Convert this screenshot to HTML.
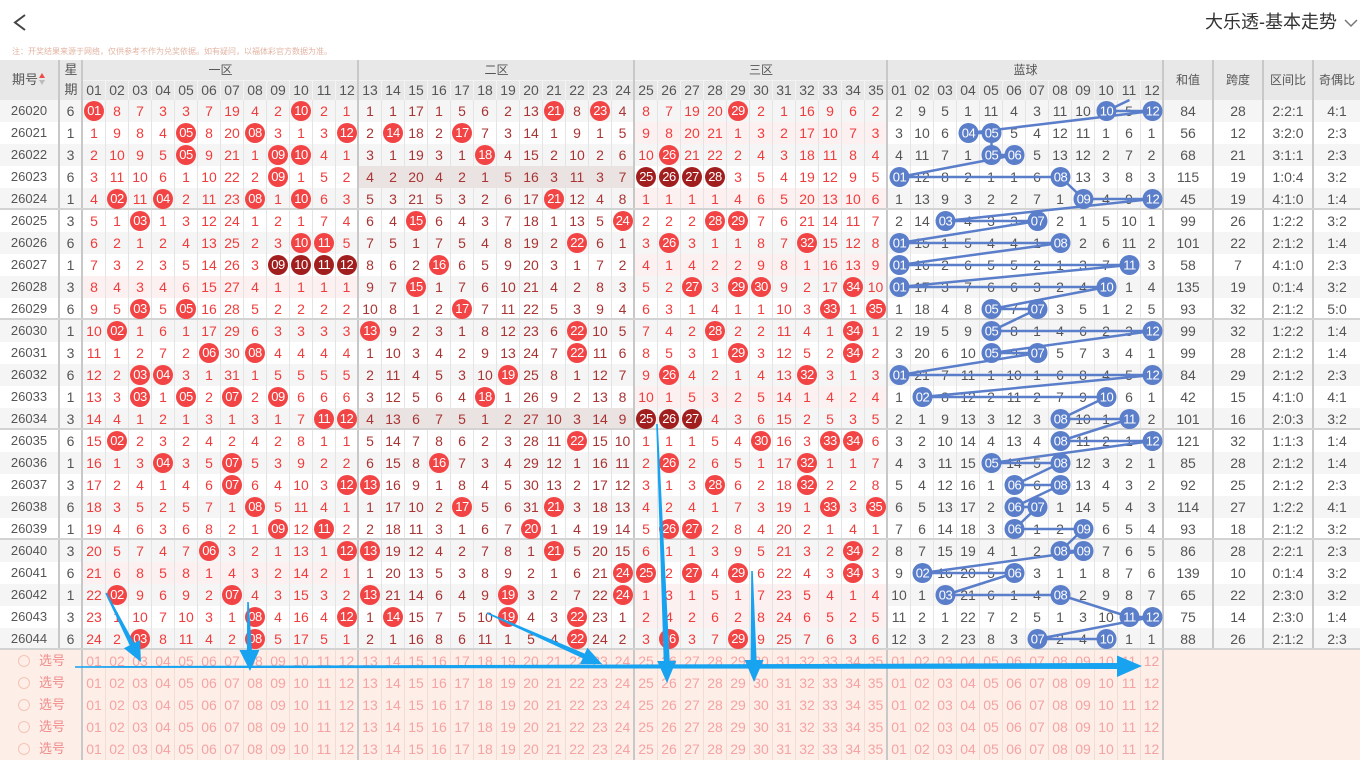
<!DOCTYPE html>
<html><head><meta charset="utf-8">
<style>
*{margin:0;padding:0;box-sizing:border-box}
body{width:1360px;height:755px;overflow:hidden;background:#fff;font-family:"Liberation Sans","Noto Sans CJK SC",sans-serif;position:relative}
u{text-decoration:none;display:block;flex:none}
.title{position:absolute;left:1205px;top:11px;font-size:18px;line-height:22px;color:#333;white-space:nowrap}
.note{position:absolute;left:12px;top:47px;font-size:8px;line-height:10px;color:#e3b4a3;white-space:nowrap}
.hd{position:absolute;left:0;top:60px;width:1360px;height:40px;background:#e8e8e8;color:#555}
.hd .vl{position:absolute;top:0;width:2px;height:40px;background:#c8c8c8}
.hd .hl{position:absolute;left:83px;top:20px;width:1080px;height:1px;background:#f3f3f3}
.hd .h2{position:absolute;left:83px;top:20px;height:20px;display:flex;font-size:14px;line-height:20px}
.hd .h2 u{width:23px;border-right:1px solid #f4f4f4;text-align:center}
.hd .lb{position:absolute;font-size:12px;line-height:20px;text-align:center;white-space:nowrap}
.rows{position:absolute;left:0;top:100px;width:1360px}
.r{display:flex;height:22px;line-height:22px;font-size:14px;text-align:center;background:#fff}
.r.g{background:#f5f5f5}
.r.s{border-bottom:2px solid #d3d3d3}
.r>u{width:23px;border-right:1px solid #e4e4e4;text-align:center;white-space:nowrap}
.r>u:nth-child(n+3){color:#ef3d3d}
.r>u:nth-child(n+15):nth-child(-n+26){color:#a83434}
.r>u:nth-child(n+38){color:#555}
.r>u:nth-child(1){width:60px;border-right:2px solid #c8c8c8;color:#555;font-size:13px}
.r>u:nth-child(2){border-right:2px solid #c8c8c8;color:#555}
.r>u:nth-child(14),.r>u:nth-child(26),.r>u:nth-child(37),.r>u:nth-child(49){border-right:2px solid #c8c8c8}
.r>u:nth-child(n+50){width:50px;border-right:2px solid #c8c8c8}
.r>u:nth-child(53){width:46px;border-right:0}
.p1>u:nth-child(n+3):nth-child(-n+14){background:#fdf0f0}
.p3>u:nth-child(n+27):nth-child(-n+37){background:#fdf0f0}
.m2>u:nth-child(n+15):nth-child(-n+26){background:#ebe2e2}
.r b,.r i{display:inline-block;width:20px;height:20px;border-radius:50%;background:#f24444;color:#fff;font-weight:normal;font-style:normal;font-size:13px;line-height:20px;letter-spacing:-0.5px;vertical-align:top;margin-top:1px}
.r i{background:#a11e1e}
.x{display:flex;height:22px;line-height:22px;background:#fdefe8;font-size:14px;color:#f5a3a3}
.x>u{width:23px;border-right:1px solid #f3dcd3;text-align:center}
.x>u:nth-child(1){width:83px;border-right:2px solid #c8c8c8;text-align:left;padding-left:39px;color:#f08c8c;font-size:13px;position:relative}
.x>u:nth-child(13),.x>u:nth-child(25),.x>u:nth-child(36),.x>u:nth-child(48){border-right:2px solid #c8c8c8}
.x em{position:absolute;left:18px;top:5px;width:12px;height:12px;border:1px solid #f5c4b6;border-radius:50%}
.xs{position:absolute;left:0;top:650px;width:1360px}
svg.ov{position:absolute;left:0;top:0}
</style></head><body>

<svg class="ov" width="1360" height="60" style="position:absolute;left:0;top:0">
<polyline points="25,15 15,22.5 25,30" fill="none" stroke="#444" stroke-width="2"/>
<polyline points="1345,20 1351,26 1357,20" fill="none" stroke="#777" stroke-width="1.5"/>
</svg>
<div class="title">大乐透-基本走势</div>
<div class="note">注：开奖结果来源于网络，仅供参考不作为兑奖依据。如有疑问，以福体彩官方数据为准。</div>

<div class="hd">
<div class="hl"></div>
<div class="h2"><u>01</u><u>02</u><u>03</u><u>04</u><u>05</u><u>06</u><u>07</u><u>08</u><u>09</u><u>10</u><u>11</u><u>12</u><u>13</u><u>14</u><u>15</u><u>16</u><u>17</u><u>18</u><u>19</u><u>20</u><u>21</u><u>22</u><u>23</u><u>24</u><u>25</u><u>26</u><u>27</u><u>28</u><u>29</u><u>30</u><u>31</u><u>32</u><u>33</u><u>34</u><u>35</u><u>01</u><u>02</u><u>03</u><u>04</u><u>05</u><u>06</u><u>07</u><u>08</u><u>09</u><u>10</u><u>11</u><u>12</u></div>
<div class="vl" style="left:58px"></div><div class="vl" style="left:81px"></div><div class="vl" style="left:357px"></div><div class="vl" style="left:633px"></div><div class="vl" style="left:886px"></div><div class="vl" style="left:1162px"></div><div class="vl" style="left:1212px"></div><div class="vl" style="left:1262px"></div><div class="vl" style="left:1312px"></div>
<div class="lb" style="left:10px;top:10px;width:30px;font-size:13px">期号</div>
<div style="position:absolute;left:39px;top:13px;width:0;height:0;border-left:3px solid transparent;border-right:3px solid transparent;border-bottom:5px solid #f04a4a"></div>
<div style="position:absolute;left:39px;top:20px;width:0;height:0;border-left:3px solid transparent;border-right:3px solid transparent;border-top:5px solid #bbb"></div>
<div class="lb" style="left:60px;top:0;width:22px;font-size:13px">星</div>
<div class="lb" style="left:60px;top:20px;width:22px;font-size:13px">期</div>
<div class="lb" style="left:83px;top:0;width:275px">一区</div>
<div class="lb" style="left:359px;top:0;width:275px">二区</div>
<div class="lb" style="left:635px;top:0;width:252px">三区</div>
<div class="lb" style="left:888px;top:0;width:275px">蓝球</div>
<div class="lb" style="left:1164px;top:10px;width:48px">和值</div>
<div class="lb" style="left:1214px;top:10px;width:48px">跨度</div>
<div class="lb" style="left:1264px;top:10px;width:48px">区间比</div>
<div class="lb" style="left:1314px;top:10px;width:46px">奇偶比</div>
</div>

<div class="rows">
<div class="r g"><u>26020</u><u>6</u><u><b>01</b></u><u>8</u><u>7</u><u>3</u><u>3</u><u>7</u><u>19</u><u>4</u><u>2</u><u><b>10</b></u><u>2</u><u>1</u><u>1</u><u>1</u><u>17</u><u>1</u><u>5</u><u>6</u><u>2</u><u>13</u><u><b>21</b></u><u>8</u><u><b>23</b></u><u>4</u><u>8</u><u>7</u><u>19</u><u>20</u><u><b>29</b></u><u>2</u><u>1</u><u>16</u><u>9</u><u>6</u><u>2</u><u>2</u><u>9</u><u>5</u><u>1</u><u>11</u><u>4</u><u>3</u><u>11</u><u>10</u><u></u><u>5</u><u></u><u>84</u><u>28</u><u>2:2:1</u><u>4:1</u></div>
<div class="r p3"><u>26021</u><u>1</u><u>1</u><u>9</u><u>8</u><u>4</u><u><b>05</b></u><u>8</u><u>20</u><u><b>08</b></u><u>3</u><u>1</u><u>3</u><u><b>12</b></u><u>2</u><u><b>14</b></u><u>18</u><u>2</u><u><b>17</b></u><u>7</u><u>3</u><u>14</u><u>1</u><u>9</u><u>1</u><u>5</u><u>9</u><u>8</u><u>20</u><u>21</u><u>1</u><u>3</u><u>2</u><u>17</u><u>10</u><u>7</u><u>3</u><u>3</u><u>10</u><u>6</u><u></u><u></u><u>5</u><u>4</u><u>12</u><u>11</u><u>1</u><u>6</u><u>1</u><u>56</u><u>12</u><u>3:2:0</u><u>2:3</u></div>
<div class="r g"><u>26022</u><u>3</u><u>2</u><u>10</u><u>9</u><u>5</u><u><b>05</b></u><u>9</u><u>21</u><u>1</u><u><b>09</b></u><u><b>10</b></u><u>4</u><u>1</u><u>3</u><u>1</u><u>19</u><u>3</u><u>1</u><u><b>18</b></u><u>4</u><u>15</u><u>2</u><u>10</u><u>2</u><u>6</u><u>10</u><u><b>26</b></u><u>21</u><u>22</u><u>2</u><u>4</u><u>3</u><u>18</u><u>11</u><u>8</u><u>4</u><u>4</u><u>11</u><u>7</u><u>1</u><u></u><u></u><u>5</u><u>13</u><u>12</u><u>2</u><u>7</u><u>2</u><u>68</u><u>21</u><u>3:1:1</u><u>2:3</u></div>
<div class="r m2"><u>26023</u><u>6</u><u>3</u><u>11</u><u>10</u><u>6</u><u>1</u><u>10</u><u>22</u><u>2</u><u><b>09</b></u><u>1</u><u>5</u><u>2</u><u>4</u><u>2</u><u>20</u><u>4</u><u>2</u><u>1</u><u>5</u><u>16</u><u>3</u><u>11</u><u>3</u><u>7</u><u><i>25</i></u><u><i>26</i></u><u><i>27</i></u><u><i>28</i></u><u>3</u><u>5</u><u>4</u><u>19</u><u>12</u><u>9</u><u>5</u><u></u><u>12</u><u>8</u><u>2</u><u>1</u><u>1</u><u>6</u><u></u><u>13</u><u>3</u><u>8</u><u>3</u><u>115</u><u>19</u><u>1:0:4</u><u>3:2</u></div>
<div class="r g p3 s"><u>26024</u><u>1</u><u>4</u><u><b>02</b></u><u>11</u><u><b>04</b></u><u>2</u><u>11</u><u>23</u><u><b>08</b></u><u>1</u><u><b>10</b></u><u>6</u><u>3</u><u>5</u><u>3</u><u>21</u><u>5</u><u>3</u><u>2</u><u>6</u><u>17</u><u><b>21</b></u><u>12</u><u>4</u><u>8</u><u>1</u><u>1</u><u>1</u><u>1</u><u>4</u><u>6</u><u>5</u><u>20</u><u>13</u><u>10</u><u>6</u><u>1</u><u>13</u><u>9</u><u>3</u><u>2</u><u>2</u><u>7</u><u>1</u><u></u><u>4</u><u>9</u><u></u><u>45</u><u>19</u><u>4:1:0</u><u>1:4</u></div>
<div class="r"><u>26025</u><u>3</u><u>5</u><u>1</u><u><b>03</b></u><u>1</u><u>3</u><u>12</u><u>24</u><u>1</u><u>2</u><u>1</u><u>7</u><u>4</u><u>6</u><u>4</u><u><b>15</b></u><u>6</u><u>4</u><u>3</u><u>7</u><u>18</u><u>1</u><u>13</u><u>5</u><u><b>24</b></u><u>2</u><u>2</u><u>2</u><u><b>28</b></u><u><b>29</b></u><u>7</u><u>6</u><u>21</u><u>14</u><u>11</u><u>7</u><u>2</u><u>14</u><u></u><u>4</u><u>3</u><u>3</u><u></u><u>2</u><u>1</u><u>5</u><u>10</u><u>1</u><u>99</u><u>26</u><u>1:2:2</u><u>3:2</u></div>
<div class="r g"><u>26026</u><u>6</u><u>6</u><u>2</u><u>1</u><u>2</u><u>4</u><u>13</u><u>25</u><u>2</u><u>3</u><u><b>10</b></u><u><b>11</b></u><u>5</u><u>7</u><u>5</u><u>1</u><u>7</u><u>5</u><u>4</u><u>8</u><u>19</u><u>2</u><u><b>22</b></u><u>6</u><u>1</u><u>3</u><u><b>26</b></u><u>3</u><u>1</u><u>1</u><u>8</u><u>7</u><u><b>32</b></u><u>15</u><u>12</u><u>8</u><u></u><u>15</u><u>1</u><u>5</u><u>4</u><u>4</u><u>1</u><u></u><u>2</u><u>6</u><u>11</u><u>2</u><u>101</u><u>22</u><u>2:1:2</u><u>1:4</u></div>
<div class="r p3"><u>26027</u><u>1</u><u>7</u><u>3</u><u>2</u><u>3</u><u>5</u><u>14</u><u>26</u><u>3</u><u><i>09</i></u><u><i>10</i></u><u><i>11</i></u><u><i>12</i></u><u>8</u><u>6</u><u>2</u><u><b>16</b></u><u>6</u><u>5</u><u>9</u><u>20</u><u>3</u><u>1</u><u>7</u><u>2</u><u>4</u><u>1</u><u>4</u><u>2</u><u>2</u><u>9</u><u>8</u><u>1</u><u>16</u><u>13</u><u>9</u><u></u><u>16</u><u>2</u><u>6</u><u>5</u><u>5</u><u>2</u><u>1</u><u>3</u><u>7</u><u></u><u>3</u><u>58</u><u>7</u><u>4:1:0</u><u>2:3</u></div>
<div class="r g p1"><u>26028</u><u>3</u><u>8</u><u>4</u><u>3</u><u>4</u><u>6</u><u>15</u><u>27</u><u>4</u><u>1</u><u>1</u><u>1</u><u>1</u><u>9</u><u>7</u><u><b>15</b></u><u>1</u><u>7</u><u>6</u><u>10</u><u>21</u><u>4</u><u>2</u><u>8</u><u>3</u><u>5</u><u>2</u><u><b>27</b></u><u>3</u><u><b>29</b></u><u><b>30</b></u><u>9</u><u>2</u><u>17</u><u><b>34</b></u><u>10</u><u></u><u>17</u><u>3</u><u>7</u><u>6</u><u>6</u><u>3</u><u>2</u><u>4</u><u></u><u>1</u><u>4</u><u>135</u><u>19</u><u>0:1:4</u><u>3:2</u></div>
<div class="r s"><u>26029</u><u>6</u><u>9</u><u>5</u><u><b>03</b></u><u>5</u><u><b>05</b></u><u>16</u><u>28</u><u>5</u><u>2</u><u>2</u><u>2</u><u>2</u><u>10</u><u>8</u><u>1</u><u>2</u><u><b>17</b></u><u>7</u><u>11</u><u>22</u><u>5</u><u>3</u><u>9</u><u>4</u><u>6</u><u>3</u><u>1</u><u>4</u><u>1</u><u>1</u><u>10</u><u>3</u><u><b>33</b></u><u>1</u><u><b>35</b></u><u>1</u><u>18</u><u>4</u><u>8</u><u></u><u>7</u><u></u><u>3</u><u>5</u><u>1</u><u>2</u><u>5</u><u>93</u><u>32</u><u>2:1:2</u><u>5:0</u></div>
<div class="r g"><u>26030</u><u>1</u><u>10</u><u><b>02</b></u><u>1</u><u>6</u><u>1</u><u>17</u><u>29</u><u>6</u><u>3</u><u>3</u><u>3</u><u>3</u><u><b>13</b></u><u>9</u><u>2</u><u>3</u><u>1</u><u>8</u><u>12</u><u>23</u><u>6</u><u><b>22</b></u><u>10</u><u>5</u><u>7</u><u>4</u><u>2</u><u><b>28</b></u><u>2</u><u>2</u><u>11</u><u>4</u><u>1</u><u><b>34</b></u><u>1</u><u>2</u><u>19</u><u>5</u><u>9</u><u></u><u>8</u><u>1</u><u>4</u><u>6</u><u>2</u><u>3</u><u></u><u>99</u><u>32</u><u>1:2:2</u><u>1:4</u></div>
<div class="r"><u>26031</u><u>3</u><u>11</u><u>1</u><u>2</u><u>7</u><u>2</u><u><b>06</b></u><u>30</u><u><b>08</b></u><u>4</u><u>4</u><u>4</u><u>4</u><u>1</u><u>10</u><u>3</u><u>4</u><u>2</u><u>9</u><u>13</u><u>24</u><u>7</u><u><b>22</b></u><u>11</u><u>6</u><u>8</u><u>5</u><u>3</u><u>1</u><u><b>29</b></u><u>3</u><u>12</u><u>5</u><u>2</u><u><b>34</b></u><u>2</u><u>3</u><u>20</u><u>6</u><u>10</u><u></u><u>9</u><u></u><u>5</u><u>7</u><u>3</u><u>4</u><u>1</u><u>99</u><u>28</u><u>2:1:2</u><u>1:4</u></div>
<div class="r g"><u>26032</u><u>6</u><u>12</u><u>2</u><u><b>03</b></u><u><b>04</b></u><u>3</u><u>1</u><u>31</u><u>1</u><u>5</u><u>5</u><u>5</u><u>5</u><u>2</u><u>11</u><u>4</u><u>5</u><u>3</u><u>10</u><u><b>19</b></u><u>25</u><u>8</u><u>1</u><u>12</u><u>7</u><u>9</u><u><b>26</b></u><u>4</u><u>2</u><u>1</u><u>4</u><u>13</u><u><b>32</b></u><u>3</u><u>1</u><u>3</u><u></u><u>21</u><u>7</u><u>11</u><u>1</u><u>10</u><u>1</u><u>6</u><u>8</u><u>4</u><u>5</u><u></u><u>84</u><u>29</u><u>2:1:2</u><u>2:3</u></div>
<div class="r p3"><u>26033</u><u>1</u><u>13</u><u>3</u><u><b>03</b></u><u>1</u><u><b>05</b></u><u>2</u><u><b>07</b></u><u>2</u><u><b>09</b></u><u>6</u><u>6</u><u>6</u><u>3</u><u>12</u><u>5</u><u>6</u><u>4</u><u><b>18</b></u><u>1</u><u>26</u><u>9</u><u>2</u><u>13</u><u>8</u><u>10</u><u>1</u><u>5</u><u>3</u><u>2</u><u>5</u><u>14</u><u>1</u><u>4</u><u>2</u><u>4</u><u>1</u><u></u><u>8</u><u>12</u><u>2</u><u>11</u><u>2</u><u>7</u><u>9</u><u></u><u>6</u><u>1</u><u>42</u><u>15</u><u>4:1:0</u><u>4:1</u></div>
<div class="r g m2 s"><u>26034</u><u>3</u><u>14</u><u>4</u><u>1</u><u>2</u><u>1</u><u>3</u><u>1</u><u>3</u><u>1</u><u>7</u><u><b>11</b></u><u><b>12</b></u><u>4</u><u>13</u><u>6</u><u>7</u><u>5</u><u>1</u><u>2</u><u>27</u><u>10</u><u>3</u><u>14</u><u>9</u><u><i>25</i></u><u><i>26</i></u><u><i>27</i></u><u>4</u><u>3</u><u>6</u><u>15</u><u>2</u><u>5</u><u>3</u><u>5</u><u>2</u><u>1</u><u>9</u><u>13</u><u>3</u><u>12</u><u>3</u><u></u><u>10</u><u>1</u><u></u><u>2</u><u>101</u><u>16</u><u>2:0:3</u><u>3:2</u></div>
<div class="r"><u>26035</u><u>6</u><u>15</u><u><b>02</b></u><u>2</u><u>3</u><u>2</u><u>4</u><u>2</u><u>4</u><u>2</u><u>8</u><u>1</u><u>1</u><u>5</u><u>14</u><u>7</u><u>8</u><u>6</u><u>2</u><u>3</u><u>28</u><u>11</u><u><b>22</b></u><u>15</u><u>10</u><u>1</u><u>1</u><u>1</u><u>5</u><u>4</u><u><b>30</b></u><u>16</u><u>3</u><u><b>33</b></u><u><b>34</b></u><u>6</u><u>3</u><u>2</u><u>10</u><u>14</u><u>4</u><u>13</u><u>4</u><u></u><u>11</u><u>2</u><u>1</u><u></u><u>121</u><u>32</u><u>1:1:3</u><u>1:4</u></div>
<div class="r g"><u>26036</u><u>1</u><u>16</u><u>1</u><u>3</u><u><b>04</b></u><u>3</u><u>5</u><u><b>07</b></u><u>5</u><u>3</u><u>9</u><u>2</u><u>2</u><u>6</u><u>15</u><u>8</u><u><b>16</b></u><u>7</u><u>3</u><u>4</u><u>29</u><u>12</u><u>1</u><u>16</u><u>11</u><u>2</u><u><b>26</b></u><u>2</u><u>6</u><u>5</u><u>1</u><u>17</u><u><b>32</b></u><u>1</u><u>1</u><u>7</u><u>4</u><u>3</u><u>11</u><u>15</u><u></u><u>14</u><u>5</u><u></u><u>12</u><u>3</u><u>2</u><u>1</u><u>85</u><u>28</u><u>2:1:2</u><u>1:4</u></div>
<div class="r"><u>26037</u><u>3</u><u>17</u><u>2</u><u>4</u><u>1</u><u>4</u><u>6</u><u><b>07</b></u><u>6</u><u>4</u><u>10</u><u>3</u><u><b>12</b></u><u><b>13</b></u><u>16</u><u>9</u><u>1</u><u>8</u><u>4</u><u>5</u><u>30</u><u>13</u><u>2</u><u>17</u><u>12</u><u>3</u><u>1</u><u>3</u><u><b>28</b></u><u>6</u><u>2</u><u>18</u><u><b>32</b></u><u>2</u><u>2</u><u>8</u><u>5</u><u>4</u><u>12</u><u>16</u><u>1</u><u></u><u>6</u><u></u><u>13</u><u>4</u><u>3</u><u>2</u><u>92</u><u>25</u><u>2:1:2</u><u>2:3</u></div>
<div class="r g"><u>26038</u><u>6</u><u>18</u><u>3</u><u>5</u><u>2</u><u>5</u><u>7</u><u>1</u><u><b>08</b></u><u>5</u><u>11</u><u>4</u><u>1</u><u>1</u><u>17</u><u>10</u><u>2</u><u><b>17</b></u><u>5</u><u>6</u><u>31</u><u><b>21</b></u><u>3</u><u>18</u><u>13</u><u>4</u><u>2</u><u>4</u><u>1</u><u>7</u><u>3</u><u>19</u><u>1</u><u><b>33</b></u><u>3</u><u><b>35</b></u><u>6</u><u>5</u><u>13</u><u>17</u><u>2</u><u></u><u></u><u>1</u><u>14</u><u>5</u><u>4</u><u>3</u><u>114</u><u>27</u><u>1:2:2</u><u>4:1</u></div>
<div class="r s"><u>26039</u><u>1</u><u>19</u><u>4</u><u>6</u><u>3</u><u>6</u><u>8</u><u>2</u><u>1</u><u><b>09</b></u><u>12</u><u><b>11</b></u><u>2</u><u>2</u><u>18</u><u>11</u><u>3</u><u>1</u><u>6</u><u>7</u><u><b>20</b></u><u>1</u><u>4</u><u>19</u><u>14</u><u>5</u><u><b>26</b></u><u><b>27</b></u><u>2</u><u>8</u><u>4</u><u>20</u><u>2</u><u>1</u><u>4</u><u>1</u><u>7</u><u>6</u><u>14</u><u>18</u><u>3</u><u></u><u>1</u><u>2</u><u></u><u>6</u><u>5</u><u>4</u><u>93</u><u>18</u><u>2:1:2</u><u>3:2</u></div>
<div class="r g"><u>26040</u><u>3</u><u>20</u><u>5</u><u>7</u><u>4</u><u>7</u><u><b>06</b></u><u>3</u><u>2</u><u>1</u><u>13</u><u>1</u><u><b>12</b></u><u><b>13</b></u><u>19</u><u>12</u><u>4</u><u>2</u><u>7</u><u>8</u><u>1</u><u><b>21</b></u><u>5</u><u>20</u><u>15</u><u>6</u><u>1</u><u>1</u><u>3</u><u>9</u><u>5</u><u>21</u><u>3</u><u>2</u><u><b>34</b></u><u>2</u><u>8</u><u>7</u><u>15</u><u>19</u><u>4</u><u>1</u><u>2</u><u></u><u></u><u>7</u><u>6</u><u>5</u><u>86</u><u>28</u><u>2:2:1</u><u>2:3</u></div>
<div class="r p1"><u>26041</u><u>6</u><u>21</u><u>6</u><u>8</u><u>5</u><u>8</u><u>1</u><u>4</u><u>3</u><u>2</u><u>14</u><u>2</u><u>1</u><u>1</u><u>20</u><u>13</u><u>5</u><u>3</u><u>8</u><u>9</u><u>2</u><u>1</u><u>6</u><u>21</u><u><b>24</b></u><u><b>25</b></u><u>2</u><u><b>27</b></u><u>4</u><u><b>29</b></u><u>6</u><u>22</u><u>4</u><u>3</u><u><b>34</b></u><u>3</u><u>9</u><u></u><u>16</u><u>20</u><u>5</u><u></u><u>3</u><u>1</u><u>1</u><u>8</u><u>7</u><u>6</u><u>139</u><u>10</u><u>0:1:4</u><u>3:2</u></div>
<div class="r g p3"><u>26042</u><u>1</u><u>22</u><u><b>02</b></u><u>9</u><u>6</u><u>9</u><u>2</u><u><b>07</b></u><u>4</u><u>3</u><u>15</u><u>3</u><u>2</u><u><b>13</b></u><u>21</u><u>14</u><u>6</u><u>4</u><u>9</u><u><b>19</b></u><u>3</u><u>2</u><u>7</u><u>22</u><u><b>24</b></u><u>1</u><u>3</u><u>1</u><u>5</u><u>1</u><u>7</u><u>23</u><u>5</u><u>4</u><u>1</u><u>4</u><u>10</u><u>1</u><u></u><u>21</u><u>6</u><u>1</u><u>4</u><u></u><u>2</u><u>9</u><u>8</u><u>7</u><u>65</u><u>22</u><u>2:3:0</u><u>3:2</u></div>
<div class="r p3"><u>26043</u><u>3</u><u>23</u><u>1</u><u>10</u><u>7</u><u>10</u><u>3</u><u>1</u><u><b>08</b></u><u>4</u><u>16</u><u>4</u><u><b>12</b></u><u>1</u><u><b>14</b></u><u>15</u><u>7</u><u>5</u><u>10</u><u><b>19</b></u><u>4</u><u>3</u><u><b>22</b></u><u>23</u><u>1</u><u>2</u><u>4</u><u>2</u><u>6</u><u>2</u><u>8</u><u>24</u><u>6</u><u>5</u><u>2</u><u>5</u><u>11</u><u>2</u><u>1</u><u>22</u><u>7</u><u>2</u><u>5</u><u>1</u><u>3</u><u>10</u><u></u><u></u><u>75</u><u>14</u><u>2:3:0</u><u>1:4</u></div>
<div class="r g s"><u>26044</u><u>6</u><u>24</u><u>2</u><u><b>03</b></u><u>8</u><u>11</u><u>4</u><u>2</u><u><b>08</b></u><u>5</u><u>17</u><u>5</u><u>1</u><u>2</u><u>1</u><u>16</u><u>8</u><u>6</u><u>11</u><u>1</u><u>5</u><u>4</u><u><b>22</b></u><u>24</u><u>2</u><u>3</u><u><b>26</b></u><u>3</u><u>7</u><u><b>29</b></u><u>9</u><u>25</u><u>7</u><u>6</u><u>3</u><u>6</u><u>12</u><u>3</u><u>2</u><u>23</u><u>8</u><u>3</u><u></u><u>2</u><u>4</u><u></u><u>1</u><u>1</u><u>88</u><u>26</u><u>2:1:2</u><u>2:3</u></div>
</div>

<div class="xs">
<div class="x"><u><em></em>选号</u><u>01</u><u>02</u><u>03</u><u>04</u><u>05</u><u>06</u><u>07</u><u>08</u><u>09</u><u>10</u><u>11</u><u>12</u><u>13</u><u>14</u><u>15</u><u>16</u><u>17</u><u>18</u><u>19</u><u>20</u><u>21</u><u>22</u><u>23</u><u>24</u><u>25</u><u>26</u><u>27</u><u>28</u><u>29</u><u>30</u><u>31</u><u>32</u><u>33</u><u>34</u><u>35</u><u>01</u><u>02</u><u>03</u><u>04</u><u>05</u><u>06</u><u>07</u><u>08</u><u>09</u><u>10</u><u>11</u><u>12</u></div>
<div class="x"><u><em></em>选号</u><u>01</u><u>02</u><u>03</u><u>04</u><u>05</u><u>06</u><u>07</u><u>08</u><u>09</u><u>10</u><u>11</u><u>12</u><u>13</u><u>14</u><u>15</u><u>16</u><u>17</u><u>18</u><u>19</u><u>20</u><u>21</u><u>22</u><u>23</u><u>24</u><u>25</u><u>26</u><u>27</u><u>28</u><u>29</u><u>30</u><u>31</u><u>32</u><u>33</u><u>34</u><u>35</u><u>01</u><u>02</u><u>03</u><u>04</u><u>05</u><u>06</u><u>07</u><u>08</u><u>09</u><u>10</u><u>11</u><u>12</u></div>
<div class="x"><u><em></em>选号</u><u>01</u><u>02</u><u>03</u><u>04</u><u>05</u><u>06</u><u>07</u><u>08</u><u>09</u><u>10</u><u>11</u><u>12</u><u>13</u><u>14</u><u>15</u><u>16</u><u>17</u><u>18</u><u>19</u><u>20</u><u>21</u><u>22</u><u>23</u><u>24</u><u>25</u><u>26</u><u>27</u><u>28</u><u>29</u><u>30</u><u>31</u><u>32</u><u>33</u><u>34</u><u>35</u><u>01</u><u>02</u><u>03</u><u>04</u><u>05</u><u>06</u><u>07</u><u>08</u><u>09</u><u>10</u><u>11</u><u>12</u></div>
<div class="x"><u><em></em>选号</u><u>01</u><u>02</u><u>03</u><u>04</u><u>05</u><u>06</u><u>07</u><u>08</u><u>09</u><u>10</u><u>11</u><u>12</u><u>13</u><u>14</u><u>15</u><u>16</u><u>17</u><u>18</u><u>19</u><u>20</u><u>21</u><u>22</u><u>23</u><u>24</u><u>25</u><u>26</u><u>27</u><u>28</u><u>29</u><u>30</u><u>31</u><u>32</u><u>33</u><u>34</u><u>35</u><u>01</u><u>02</u><u>03</u><u>04</u><u>05</u><u>06</u><u>07</u><u>08</u><u>09</u><u>10</u><u>11</u><u>12</u></div>
<div class="x"><u><em></em>选号</u><u>01</u><u>02</u><u>03</u><u>04</u><u>05</u><u>06</u><u>07</u><u>08</u><u>09</u><u>10</u><u>11</u><u>12</u><u>13</u><u>14</u><u>15</u><u>16</u><u>17</u><u>18</u><u>19</u><u>20</u><u>21</u><u>22</u><u>23</u><u>24</u><u>25</u><u>26</u><u>27</u><u>28</u><u>29</u><u>30</u><u>31</u><u>32</u><u>33</u><u>34</u><u>35</u><u>01</u><u>02</u><u>03</u><u>04</u><u>05</u><u>06</u><u>07</u><u>08</u><u>09</u><u>10</u><u>11</u><u>12</u></div>
</div>

<svg class="ov" width="1360" height="755" viewBox="0 0 1360 755">
<polyline fill="none" stroke="#5b7eca" stroke-width="2.5" stroke-linejoin="round" points="1129.5,100 1106.5,111 1152.5,111 968.5,133 991.5,133 991.5,155 1014.5,155 899.5,177 1060.5,177 1083.5,199 1152.5,199 945.5,221 1037.5,221 899.5,243 1060.5,243 899.5,265 1129.5,265 899.5,287 1106.5,287 991.5,309 1037.5,309 991.5,331 1152.5,331 991.5,353 1037.5,353 899.5,375 1152.5,375 922.5,397 1106.5,397 1060.5,419 1129.5,419 1060.5,441 1152.5,441 991.5,463 1060.5,463 1014.5,485 1060.5,485 1014.5,507 1037.5,507 1014.5,529 1083.5,529 1060.5,551 1083.5,551 922.5,573 1014.5,573 945.5,595 1060.5,595 1129.5,617 1152.5,617 1037.5,639 1106.5,639"/>
<g fill="#5b7eca">
<circle cx="1106.5" cy="111" r="10"/><circle cx="1152.5" cy="111" r="10"/>
<circle cx="968.5" cy="133" r="10"/><circle cx="991.5" cy="133" r="10"/>
<circle cx="991.5" cy="155" r="10"/><circle cx="1014.5" cy="155" r="10"/>
<circle cx="899.5" cy="177" r="10"/><circle cx="1060.5" cy="177" r="10"/>
<circle cx="1083.5" cy="199" r="10"/><circle cx="1152.5" cy="199" r="10"/>
<circle cx="945.5" cy="221" r="10"/><circle cx="1037.5" cy="221" r="10"/>
<circle cx="899.5" cy="243" r="10"/><circle cx="1060.5" cy="243" r="10"/>
<circle cx="899.5" cy="265" r="10"/><circle cx="1129.5" cy="265" r="10"/>
<circle cx="899.5" cy="287" r="10"/><circle cx="1106.5" cy="287" r="10"/>
<circle cx="991.5" cy="309" r="10"/><circle cx="1037.5" cy="309" r="10"/>
<circle cx="991.5" cy="331" r="10"/><circle cx="1152.5" cy="331" r="10"/>
<circle cx="991.5" cy="353" r="10"/><circle cx="1037.5" cy="353" r="10"/>
<circle cx="899.5" cy="375" r="10"/><circle cx="1152.5" cy="375" r="10"/>
<circle cx="922.5" cy="397" r="10"/><circle cx="1106.5" cy="397" r="10"/>
<circle cx="1060.5" cy="419" r="10"/><circle cx="1129.5" cy="419" r="10"/>
<circle cx="1060.5" cy="441" r="10"/><circle cx="1152.5" cy="441" r="10"/>
<circle cx="991.5" cy="463" r="10"/><circle cx="1060.5" cy="463" r="10"/>
<circle cx="1014.5" cy="485" r="10"/><circle cx="1060.5" cy="485" r="10"/>
<circle cx="1014.5" cy="507" r="10"/><circle cx="1037.5" cy="507" r="10"/>
<circle cx="1014.5" cy="529" r="10"/><circle cx="1083.5" cy="529" r="10"/>
<circle cx="1060.5" cy="551" r="10"/><circle cx="1083.5" cy="551" r="10"/>
<circle cx="922.5" cy="573" r="10"/><circle cx="1014.5" cy="573" r="10"/>
<circle cx="945.5" cy="595" r="10"/><circle cx="1060.5" cy="595" r="10"/>
<circle cx="1129.5" cy="617" r="10"/><circle cx="1152.5" cy="617" r="10"/>
<circle cx="1037.5" cy="639" r="10"/><circle cx="1106.5" cy="639" r="10"/>
</g>
<g fill="#fff" font-family="Liberation Sans, sans-serif" font-size="13" text-anchor="middle" letter-spacing="-0.5">
<text x="1106.5" y="115.5">10</text><text x="1152.5" y="115.5">12</text>
<text x="968.5" y="137.5">04</text><text x="991.5" y="137.5">05</text>
<text x="991.5" y="159.5">05</text><text x="1014.5" y="159.5">06</text>
<text x="899.5" y="181.5">01</text><text x="1060.5" y="181.5">08</text>
<text x="1083.5" y="203.5">09</text><text x="1152.5" y="203.5">12</text>
<text x="945.5" y="225.5">03</text><text x="1037.5" y="225.5">07</text>
<text x="899.5" y="247.5">01</text><text x="1060.5" y="247.5">08</text>
<text x="899.5" y="269.5">01</text><text x="1129.5" y="269.5">11</text>
<text x="899.5" y="291.5">01</text><text x="1106.5" y="291.5">10</text>
<text x="991.5" y="313.5">05</text><text x="1037.5" y="313.5">07</text>
<text x="991.5" y="335.5">05</text><text x="1152.5" y="335.5">12</text>
<text x="991.5" y="357.5">05</text><text x="1037.5" y="357.5">07</text>
<text x="899.5" y="379.5">01</text><text x="1152.5" y="379.5">12</text>
<text x="922.5" y="401.5">02</text><text x="1106.5" y="401.5">10</text>
<text x="1060.5" y="423.5">08</text><text x="1129.5" y="423.5">11</text>
<text x="1060.5" y="445.5">08</text><text x="1152.5" y="445.5">12</text>
<text x="991.5" y="467.5">05</text><text x="1060.5" y="467.5">08</text>
<text x="1014.5" y="489.5">06</text><text x="1060.5" y="489.5">08</text>
<text x="1014.5" y="511.5">06</text><text x="1037.5" y="511.5">07</text>
<text x="1014.5" y="533.5">06</text><text x="1083.5" y="533.5">09</text>
<text x="1060.5" y="555.5">08</text><text x="1083.5" y="555.5">09</text>
<text x="922.5" y="577.5">02</text><text x="1014.5" y="577.5">06</text>
<text x="945.5" y="599.5">03</text><text x="1060.5" y="599.5">08</text>
<text x="1129.5" y="621.5">11</text><text x="1152.5" y="621.5">12</text>
<text x="1037.5" y="643.5">07</text><text x="1106.5" y="643.5">10</text>
</g>
<g fill="#18a3f0">
<polygon points="75,666.2 1117,663 1117,655.5 1142,666 1117,677 1117,669 75,667.8"/>
<polygon points="105.3,593.4 129.7,645.3 123.9,648.2 141,662 140,640.1 134.2,643.1 106.7,592.6"/>
<polygon points="247.2,602 246.9,650 239.4,650 250,671 259.4,650 251.9,650 248.8,602"/>
<polygon points="486.7,613.7 582.7,658.2 580.1,664.1 602,664 587.4,647.7 584.7,653.6 487.3,612.3"/>
<polygon points="656.2,424 663.7,661 657.2,661 667,683 676.2,660.7 669.7,660.9 657.8,424"/>
<polygon points="751.2,571 750.6,660 744.6,660 754,682 763.6,660 756.6,660 752.8,571"/>
</g>
</svg>
</body></html>
